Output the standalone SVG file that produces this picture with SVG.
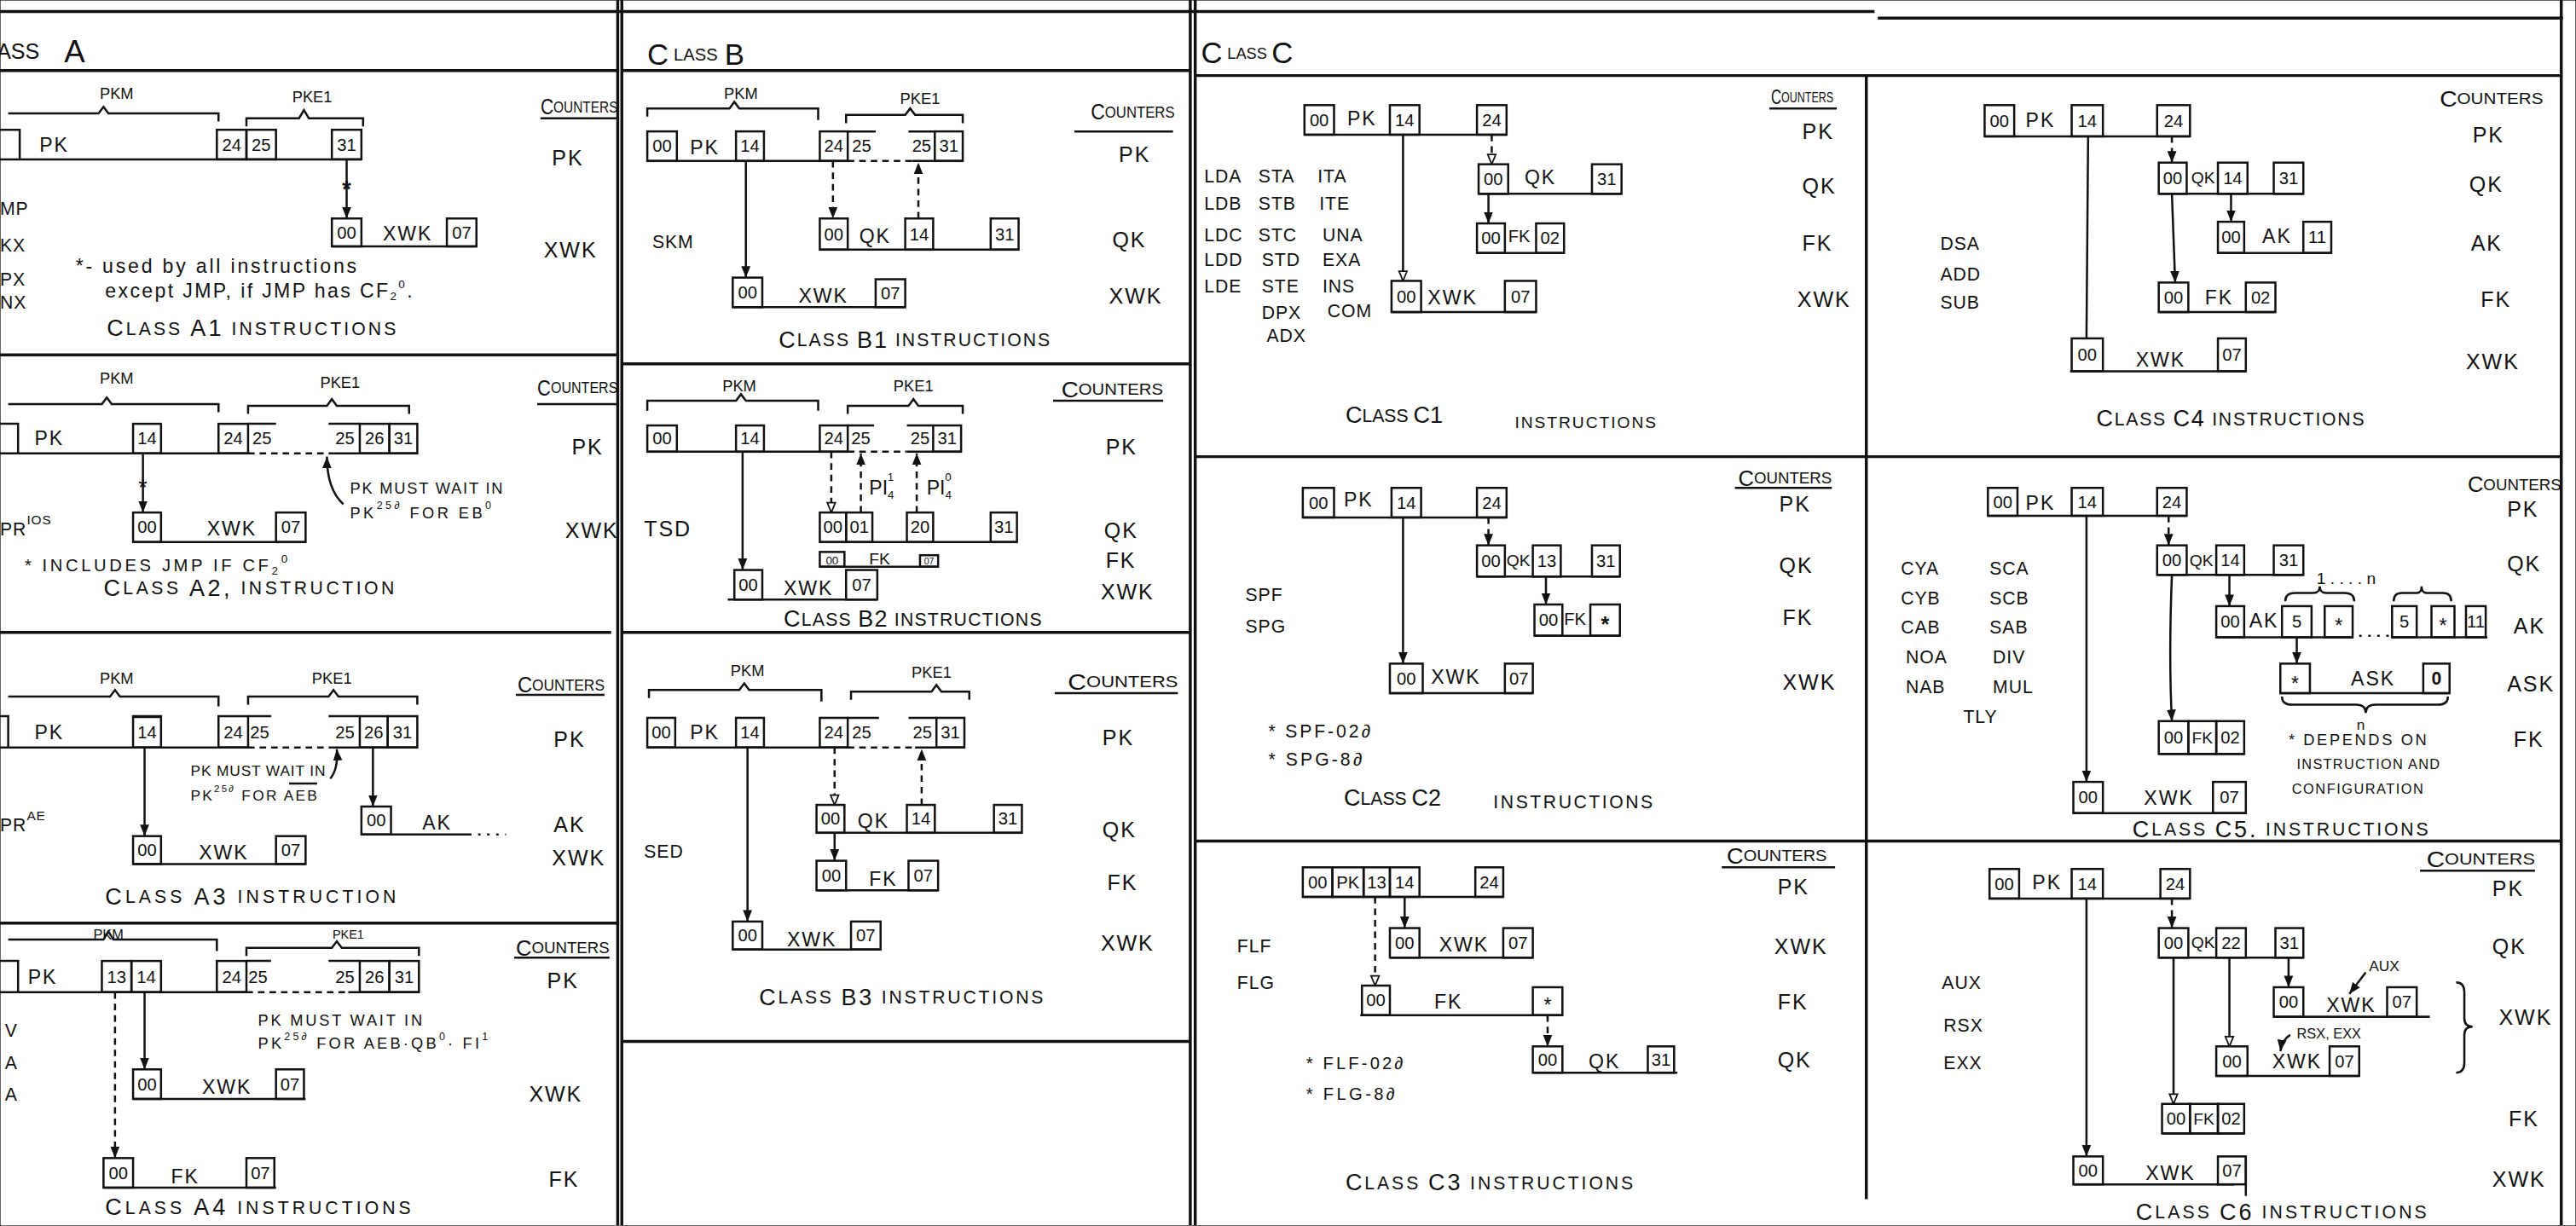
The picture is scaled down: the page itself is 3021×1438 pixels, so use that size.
<svg xmlns="http://www.w3.org/2000/svg" width="3021" height="1438" viewBox="0 0 3021 1438">
<defs>
<style>
.f{fill:none;stroke:#111;stroke-width:1.8}
.l{fill:none;stroke:#111;stroke-width:1.3}
rect{fill:none;stroke:#111;stroke-width:1.3}
.d{stroke-dasharray:4,3}
text{font-family:'Liberation Sans',Arial,sans-serif;fill:#111;dominant-baseline:central}
.n{font-size:10.5px;text-anchor:middle}
.m{text-anchor:middle}
.r{font-size:12px;letter-spacing:1px}
.k{font-size:13px;letter-spacing:1px}
.i{font-size:11px;letter-spacing:0.5px}
.s{font-size:9.5px}
.t{font-size:11px}
.b{font-size:14px}
.h{font-size:9.5px}
.hb{font-size:13px}
.sm{font-size:6.5px}
</style>
<marker id="a" viewBox="0 0 10 10" refX="10" refY="5" markerWidth="7" markerHeight="7" markerUnits="userSpaceOnUse" orient="auto"><path d="M0,1 L10,5 L0,9 z" fill="#111"/></marker>
<marker id="o" viewBox="0 0 10 10" refX="9.5" refY="5" markerWidth="7" markerHeight="7" markerUnits="userSpaceOnUse" orient="auto"><path d="M1,1.5 L9.5,5 L1,8.5 z" fill="#fff" stroke="#111" stroke-width="1.3"/></marker>
</defs>
<rect width="3021" height="1438" fill="#fff"/>
<g transform="scale(1.9267)">

<g id="frame" class="f">
<path d="M0,7 H1141 M1143,11 H1560"/>
<path d="M0,43 H376 M379,43 H724 M728,46 H1559"/>
<path d="M376,0 V746 M378.5,0 V746 M724.5,0 V746 M727.5,0 V746 M1136,46 V730 M1559,0 V746"/>
<path d="M0,216 H376 M0,385 H372 M0,562 H376"/>
<path d="M379,221.5 H724 M379,385 H724 M379,634 H724"/>
<path d="M728,278 H1136 M728,512 H1136 M1136,278 H1559 M1136,512 H1559"/>
</g>

<g id="headers">
<text x="-2" y="31" font-size="13">ASS<tspan x="39" font-size="19">A</tspan></text>
<text x="394" y="33" font-size="10.5"><tspan font-size="18">C</tspan><tspan x="410">LASS</tspan><tspan x="441" font-size="18">B</tspan></text>
<text x="731" y="32" font-size="9.5"><tspan font-size="18">C</tspan><tspan x="747">LASS</tspan><tspan x="774" font-size="18">C</tspan></text>
</g>

<!-- ============ A1 ============ -->
<g id="A1">
<text class="h m" x="71" y="57">PKM</text>
<path class="l" d="M5,69 H60 L63,65 L66,69 H133 V74"/>
<text class="h m" x="190" y="59">PKE1</text>
<path class="l" d="M150,77 V72 H182 L185,67 L188,72 H221 V77"/>
<text x="329" y="65" font-size="9.5" textLength="47" lengthAdjust="spacingAndGlyphs"><tspan class="hb">C</tspan>OUNTERS</text>
<path class="l" d="M329,72 H376"/>
<g id="A1-PK">
<path class="l" d="M-2,79 H12 V97 M-2,97 H220"/>
<text class="r" x="24" y="88">PK</text>
<rect x="132" y="79" width="18" height="18"/><text class="n" x="141" y="88">24</text>
<rect x="150" y="79" width="18" height="18"/><text class="n" x="159" y="88">25</text>
<rect x="202" y="79" width="18" height="18"/><text class="n" x="211" y="88">31</text>
</g>
<g id="A1-XWK">
<path class="l" d="M202,150 H290"/>
<rect x="202" y="133" width="18" height="17"/><text class="n" x="211" y="141.5">00</text>
<text class="r" x="233" y="142">XWK</text>
<rect x="272" y="133" width="18" height="17"/><text class="n" x="281" y="141.5">07</text>
</g>
<text class="i" x="0" y="127">MP</text>
<text class="i" x="0" y="149">KX</text>
<text class="i" x="0" y="170">PX</text>
<text class="i" x="0" y="184">NX</text>
<text x="46" y="162" font-size="12" textLength="171">*- used by all instructions</text>
<text x="64" y="177" font-size="12" textLength="187">except JMP, if JMP has CF<tspan dy="3" font-size="7">2</tspan><tspan dy="-7" font-size="7">0</tspan><tspan dy="4">.</tspan></text>
<text class="t" x="65" y="200" textLength="176"><tspan class="b">C</tspan>LASS <tspan class="b">A1</tspan> INSTRUCTIONS</text>
<text class="k" x="336" y="96">PK</text>
<text class="k" x="331" y="152">XWK</text>
</g>

<!-- ============ A2 ============ -->
<g id="A2">
<text class="h m" x="71" y="230">PKM</text>
<path class="l" d="M5,246 H62 L65,242 L68,246 H133 V251"/>
<text class="h m" x="207" y="233">PKE1</text>
<path class="l" d="M151,252 V247 H199 L202,243 L205,247 H249 V252"/>
<text x="327" y="236" font-size="9.5" textLength="49" lengthAdjust="spacingAndGlyphs"><tspan class="hb">C</tspan>OUNTERS</text>
<path class="l" d="M327,246 H376"/>
<g id="A2-PK">
<path class="l" d="M-2,258 H11 V276 M-2,276 H151 M203,276 H254 M151,258 H168 M200,258 H219"/>
<path class="l d" d="M151,276 H203"/>
<text class="r" x="21" y="267">PK</text>
<rect x="81" y="258" width="17" height="18"/><text class="n" x="89.5" y="267">14</text>
<rect x="133" y="258" width="18" height="18"/><text class="n" x="142" y="267">24</text>
<text class="n" x="159.5" y="267">25</text>
<text class="n" x="210" y="267">25</text>
<rect x="219" y="258" width="18" height="18"/><text class="n" x="228" y="267">26</text>
<rect x="237" y="258" width="17" height="18"/><text class="n" x="245.5" y="267">31</text>
</g>
<g id="A2-XWK">
<path class="l" d="M81,330 H186"/>
<rect x="81" y="312" width="17" height="18"/><text class="n" x="89.5" y="321">00</text>
<text class="r" x="126" y="322">XWK</text>
<rect x="168" y="312" width="18" height="18"/><text class="n" x="177" y="321">07</text>
</g>
<text class="i" x="0" y="322">PR<tspan dy="-6" font-size="8">IOS</tspan></text>
<text x="213" y="297" font-size="9.5" textLength="93">PK MUST WAIT IN</text>
<text x="213" y="312" font-size="9.5" textLength="86">PK<tspan dy="-4" font-size="6.5">25∂</tspan><tspan dy="4"> FOR EB</tspan><tspan dy="-4" font-size="6.5">0</tspan></text>
<text x="15" y="344" font-size="10.5" textLength="160">* INCLUDES JMP IF CF<tspan dy="3" font-size="7">2</tspan><tspan dy="-7" font-size="7">0</tspan></text>
<text class="t" x="63" y="358" textLength="177"><tspan class="b">C</tspan>LASS <tspan class="b">A2,</tspan> INSTRUCTION</text>
<text class="k" x="348" y="272">PK</text>
<text class="k" x="344" y="323">XWK</text>
</g>

<!-- ============ A3 ============ -->
<g id="A3">
<text class="h m" x="71" y="413">PKM</text>
<path class="l" d="M5,424 H67 L70,420 L73,424 H133 V430"/>
<text class="h m" x="202" y="413">PKE1</text>
<path class="l" d="M151,429 V424 H200 L203,420 L206,424 H254 V429"/>
<text x="315" y="417" font-size="9.5" textLength="53" lengthAdjust="spacingAndGlyphs"><tspan class="hb">C</tspan>OUNTERS</text>
<path class="l" d="M314,423 H368"/>
<g id="A3-PK">
<path class="l" d="M-2,436 H5 V455 M-2,455 H151 M202,455 H254 M151,436 H165 M200,436 H219 M81,436.5 H98"/>
<path class="l d" d="M151,455 H202"/>
<text class="r" x="21" y="446">PK</text>
<rect x="81" y="436" width="17" height="19"/><text class="n" x="89.5" y="446">14</text>
<rect x="133" y="436" width="18" height="19"/><text class="n" x="142" y="446">24</text>
<text class="n" x="158" y="446">25</text>
<text class="n" x="210" y="446">25</text>
<rect x="219" y="436" width="17" height="19"/><text class="n" x="227.5" y="446">26</text>
<rect x="236" y="436" width="18" height="19"/><text class="n" x="245" y="446">31</text>
</g>
<g id="A3-AK">
<path class="l" d="M220,508 H287"/>
<path class="l" d="M291,508 H308" stroke-dasharray="1.5,4"/>
<rect x="220" y="491" width="18" height="17"/><text class="n" x="229" y="499.5">00</text>
<text class="r" x="257" y="501">AK</text>
</g>
<g id="A3-XWK">
<path class="l" d="M81,526 H186"/>
<rect x="81" y="509" width="17" height="17"/><text class="n" x="89.5" y="517.5">00</text>
<text class="r" x="121" y="519">XWK</text>
<rect x="168" y="509" width="18" height="17"/><text class="n" x="177" y="517.5">07</text>
</g>
<text class="i" x="0" y="502">PR<tspan dy="-6" font-size="8">AE</tspan></text>
<text x="116" y="469" font-size="9" textLength="82">PK MUST WAIT IN</text>
<text x="116" y="484" font-size="9" textLength="77">PK<tspan dy="-4" font-size="6">25∂</tspan><tspan dy="4"> FOR AEB</tspan></text>
<path class="l" d="M176,477 H193" stroke-width="0.9"/>
<text class="t" x="64" y="546" textLength="177"><tspan class="b">C</tspan>LASS <tspan class="b">A3</tspan> INSTRUCTION</text>
<text class="k" x="337" y="450">PK</text>
<text class="k" x="337" y="502">AK</text>
<text class="k" x="336" y="522">XWK</text>
</g>

<!-- ============ A4 ============ -->
<g id="A4">
<text class="m" x="66" y="569" font-size="8.5">PKM</text>
<path class="l" d="M5,572 H63 L66,567 L69,572 H132 V579"/>
<text class="m" x="212" y="569" font-size="7.5">PKE1</text>
<path class="l" d="M150,582 V577 H202 L205,573 L208,577 H255 V582"/>
<text x="314" y="577" font-size="9.5" textLength="57" lengthAdjust="spacingAndGlyphs"><tspan class="hb">C</tspan>OUNTERS</text>
<path class="l" d="M313,583 H371"/>
<g id="A4-PK">
<path class="l" d="M-2,585 H11 V604 M-2,604 H150 M212,604 H255 M150,585 H165 M200,585 H219"/>
<path class="l d" d="M150,604 H212"/>
<text class="r" x="17" y="595">PK</text>
<rect x="62" y="585" width="18" height="19"/><text class="n" x="71" y="595">13</text>
<rect x="80" y="585" width="18" height="19"/><text class="n" x="89" y="595">14</text>
<rect x="132" y="585" width="18" height="19"/><text class="n" x="141" y="595">24</text>
<text class="n" x="157" y="595">25</text>
<text class="n" x="210" y="595">25</text>
<rect x="219" y="585" width="18" height="19"/><text class="n" x="228" y="595">26</text>
<rect x="237" y="585" width="18" height="19"/><text class="n" x="246" y="595">31</text>
</g>
<g id="A4-XWK">
<path class="l" d="M81,669 H186"/>
<rect x="81" y="651" width="17" height="18"/><text class="n" x="89.5" y="660">00</text>
<text class="r" x="123" y="662">XWK</text>
<rect x="168" y="651" width="17" height="18"/><text class="n" x="176.5" y="660">07</text>
</g>
<g id="A4-FK">
<path class="l" d="M63,723 H168"/>
<rect x="63" y="705" width="18" height="18"/><text class="n" x="72" y="714">00</text>
<text class="r" x="104" y="716">FK</text>
<rect x="150" y="705" width="17" height="18"/><text class="n" x="158.5" y="714">07</text>
</g>
<text class="i" x="3" y="627">V</text>
<text class="i" x="3" y="647">A</text>
<text class="i" x="3" y="666">A</text>
<text x="157" y="621" font-size="9.5" textLength="100">PK MUST WAIT IN</text>
<text x="157" y="635" font-size="9.5" textLength="140">PK<tspan dy="-4" font-size="6.5">25∂</tspan><tspan dy="4"> FOR AEB·QB</tspan><tspan dy="-4" font-size="6.5">0</tspan><tspan dy="4">· FI</tspan><tspan dy="-4" font-size="6.5">1</tspan></text>
<text class="t" x="64" y="735" textLength="186"><tspan class="b">C</tspan>LASS <tspan class="b">A4</tspan> INSTRUCTIONS</text>
<text class="k" x="333" y="597">PK</text>
<text class="k" x="322" y="666">XWK</text>
<text class="k" x="334" y="718">FK</text>
</g>

<!-- ============ B1 ============ -->
<g id="B1">
<text class="h m" x="451" y="57">PKM</text>
<path class="l" d="M394,71 V66 H444 L447,62 L450,66 H498 V73"/>
<text class="h m" x="560" y="60">PKE1</text>
<path class="l" d="M515,75 V70 H551 L554,66 L557,70 H586 V75"/>
<text x="664" y="68" font-size="9.5" textLength="51" lengthAdjust="spacingAndGlyphs"><tspan class="hb">C</tspan>OUNTERS</text>
<path class="l" d="M654,80 H714"/>
<g id="B1-PK">
<path class="l" d="M394,98 H516 M555,98 H586 M516,80 H533 M553,80 H569"/>
<path class="l d" d="M516,98 H555"/>
<rect x="394" y="80" width="18" height="18"/><text class="n" x="403" y="89">00</text>
<text class="r" x="420" y="90">PK</text>
<rect x="448" y="80" width="17" height="18"/><text class="n" x="456.5" y="89">14</text>
<rect x="499" y="80" width="17" height="18"/><text class="n" x="507.5" y="89">24</text>
<text class="n" x="524.5" y="89">25</text>
<text class="n" x="561" y="89">25</text>
<rect x="569" y="80" width="17" height="18"/><text class="n" x="577.5" y="89">31</text>
</g>
<g id="B1-QK">
<path class="l" d="M499,152 H620"/>
<rect x="499" y="133" width="17" height="19"/><text class="n" x="507.5" y="142.5">00</text>
<text class="r" x="523" y="144">QK</text>
<rect x="551" y="133" width="17" height="19"/><text class="n" x="559.5" y="142.5">14</text>
<rect x="603" y="133" width="17" height="19"/><text class="n" x="611.5" y="142.5">31</text>
</g>
<g id="B1-XWK">
<path class="l" d="M446,187 H551"/>
<rect x="446" y="169" width="18" height="18"/><text class="n" x="455" y="178">00</text>
<text class="r" x="486" y="180">XWK</text>
<rect x="533" y="170" width="18" height="17"/><text class="n" x="542" y="178.5">07</text>
</g>
<text class="i" x="397" y="147">SKM</text>
<text class="t" x="474" y="207" textLength="165"><tspan class="b">C</tspan>LASS <tspan class="b">B1</tspan> INSTRUCTIONS</text>
<text class="k" x="681" y="94">PK</text>
<text class="k" x="677" y="146">QK</text>
<text class="k" x="675" y="180">XWK</text>
</g>

<!-- ============ B2 ============ -->
<g id="B2">
<text class="h m" x="450" y="235">PKM</text>
<path class="l" d="M394,250 V244 H448 L451,240 L454,244 H498 V250"/>
<text class="h m" x="556" y="235">PKE1</text>
<path class="l" d="M516,252 V247 H553 L556,243 L559,247 H586 V252"/>
<text x="646" y="237" font-size="9.5" textLength="62" lengthAdjust="spacingAndGlyphs"><tspan class="hb">C</tspan>OUNTERS</text>
<path class="l" d="M641,244 H708"/>
<g id="B2-PK">
<path class="l" d="M394,275 H516 M552,275 H585 M516,259 H532 M552,259 H568"/>
<path class="l d" d="M516,275 H552"/>
<rect x="394" y="259" width="18" height="16"/><text class="n" x="403" y="267">00</text>
<rect x="448" y="259" width="17" height="16"/><text class="n" x="456.5" y="267">14</text>
<rect x="499" y="259" width="17" height="16"/><text class="n" x="507.5" y="267">24</text>
<text class="n" x="524" y="267">25</text>
<text class="n" x="560" y="267">25</text>
<rect x="568" y="259" width="17" height="16"/><text class="n" x="576.5" y="267">31</text>
</g>
<g id="B2-QK">
<path class="l" d="M499,330 H619"/>
<rect x="499" y="312" width="16" height="18"/><text class="n" x="507" y="321">00</text>
<rect x="515" y="312" width="16" height="18"/><text class="n" x="523" y="321">01</text>
<rect x="552" y="312" width="16" height="18"/><text class="n" x="560" y="321">20</text>
<rect x="603" y="312" width="16" height="18"/><text class="n" x="611" y="321">31</text>
</g>
<g id="B2-FK">
<path class="l" d="M499,345 H571"/>
<rect x="499" y="336" width="15" height="9"/><text class="m" x="506.5" y="341" font-size="7">00</text>
<text x="529" y="340" font-size="10">FK</text>
<rect x="560" y="338" width="11" height="7"/><text class="m" x="565.5" y="341.5" font-size="5.5">07</text>
</g>
<g id="B2-XWK">
<path class="l" d="M443,365 H534"/>
<rect x="447" y="347" width="17" height="18"/><text class="n" x="455.5" y="356">00</text>
<text class="r" x="477" y="358">XWK</text>
<rect x="515" y="347" width="19" height="18"/><text class="n" x="524.5" y="356">07</text>
</g>
<text class="k" x="392" y="322">TSD</text>
<text class="t" x="477" y="377" textLength="157"><tspan class="b">C</tspan>LASS <tspan class="b">B2</tspan> INSTRUCTIONS</text>
<text class="k" x="673" y="272">PK</text>
<text class="k" x="672" y="323">QK</text>
<text class="k" x="673" y="341">FK</text>
<text class="k" x="670" y="360">XWK</text>
</g>

<!-- ============ B3 ============ -->
<g id="B3">
<text class="h m" x="455" y="408">PKM</text>
<path class="l" d="M395,425 V420 H450 L453,416 L456,420 H500 V427"/>
<text class="h m" x="567" y="409">PKE1</text>
<path class="l" d="M518,426 V421 H567 L570,417 L573,421 H590 V426"/>
<text x="650" y="415" font-size="9.5" textLength="67" lengthAdjust="spacingAndGlyphs"><tspan class="hb">C</tspan>OUNTERS</text>
<path class="l" d="M642,422 H717"/>
<g id="B3-PK">
<path class="l" d="M394,455 H516 M557,455 H587 M516,437 H535 M553,437 H570"/>
<path class="l d" d="M516,455 H557"/>
<rect x="394" y="437" width="17" height="18"/><text class="n" x="402.5" y="446">00</text>
<text class="r" x="420" y="446">PK</text>
<rect x="448" y="437" width="17" height="18"/><text class="n" x="456.5" y="446">14</text>
<rect x="499" y="437" width="17" height="18"/><text class="n" x="507.5" y="446">24</text>
<text class="n" x="524.5" y="446">25</text>
<text class="n" x="561.5" y="446">25</text>
<rect x="570" y="437" width="17" height="18"/><text class="n" x="578.5" y="446">31</text>
</g>
<g id="B3-QK">
<path class="l" d="M497,507 H622"/>
<rect x="497" y="490" width="17" height="17"/><text class="n" x="505.5" y="498.5">00</text>
<text class="r" x="522" y="500">QK</text>
<rect x="552" y="490" width="17" height="17"/><text class="n" x="560.5" y="498.5">14</text>
<rect x="605" y="490" width="17" height="17"/><text class="n" x="613.5" y="498.5">31</text>
</g>
<g id="B3-FK">
<path class="l" d="M497,542 H571"/>
<rect x="497" y="524" width="18" height="18"/><text class="n" x="506" y="533">00</text>
<text class="r" x="529" y="535">FK</text>
<rect x="553" y="524" width="18" height="18"/><text class="n" x="562" y="533">07</text>
</g>
<g id="B3-XWK">
<path class="l" d="M446,578 H536"/>
<rect x="446" y="561" width="18" height="17"/><text class="n" x="455" y="569.5">00</text>
<text class="r" x="479" y="572">XWK</text>
<rect x="518" y="561" width="18" height="17"/><text class="n" x="527" y="569.5">07</text>
</g>
<text class="i" x="392" y="518">SED</text>
<text class="t" x="462" y="607" textLength="173"><tspan class="b">C</tspan>LASS <tspan class="b">B3</tspan> INSTRUCTIONS</text>
<text class="k" x="671" y="449">PK</text>
<text class="k" x="671" y="505">QK</text>
<text class="k" x="674" y="537">FK</text>
<text class="k" x="670" y="574">XWK</text>
</g>

<!-- ============ C1 ============ -->
<g id="C1">
<text x="1078" y="59" font-size="9" textLength="38" lengthAdjust="spacingAndGlyphs"><tspan font-size="12">C</tspan>OUNTERS</text>
<path class="l" d="M1077,66 H1118"/>
<g id="C1-PK">
<path class="l" d="M794,82 H917"/>
<rect x="794" y="64" width="18" height="18"/><text class="n" x="803" y="73">00</text>
<text class="r" x="820" y="72">PK</text>
<rect x="846" y="64" width="18" height="18"/><text class="n" x="855" y="73">14</text>
<rect x="899" y="64" width="18" height="18"/><text class="n" x="908" y="73">24</text>
</g>
<g id="C1-QK">
<path class="l" d="M900,118 H987"/>
<rect x="900" y="100" width="18" height="18"/><text class="n" x="909" y="109">00</text>
<text class="r" x="928" y="108">QK</text>
<rect x="969" y="100" width="18" height="18"/><text class="n" x="978" y="109">31</text>
</g>
<g id="C1-FK">
<path class="l" d="M899,154 H952"/>
<rect x="899" y="136" width="17" height="18"/><text class="n" x="907.5" y="145">00</text>
<text x="918" y="144" font-size="10.5">FK</text>
<rect x="935" y="136" width="17" height="18"/><text class="n" x="943.5" y="145">02</text>
</g>
<g id="C1-XWK">
<path class="l" d="M847,190 H935"/>
<rect x="847" y="171" width="18" height="19"/><text class="n" x="856" y="180.5">00</text>
<text class="r" x="869" y="181">XWK</text>
<rect x="916" y="171" width="19" height="19"/><text class="n" x="925.5" y="180.5">07</text>
</g>
<text class="i" x="733" y="107">LDA</text><text class="i" x="766" y="107">STA</text><text class="i" x="802" y="107">ITA</text>
<text class="i" x="733" y="124">LDB</text><text class="i" x="766" y="124">STB</text><text class="i" x="803" y="124">ITE</text>
<text class="i" x="733" y="143">LDC</text><text class="i" x="766" y="143">STC</text><text class="i" x="805" y="143">UNA</text>
<text class="i" x="733" y="158">LDD</text><text class="i" x="768" y="158">STD</text><text class="i" x="805" y="158">EXA</text>
<text class="i" x="733" y="174">LDE</text><text class="i" x="768" y="174">STE</text><text class="i" x="805" y="174">INS</text>
<text class="i" x="768" y="190">DPX</text><text class="i" x="808" y="189">COM</text>
<text class="i" x="771" y="204">ADX</text>
<text class="t" x="819" y="253"><tspan class="b">C</tspan>LASS <tspan class="b">C1</tspan><tspan x="922" y="257" font-size="10" textLength="86">INSTRUCTIONS</tspan></text>
<text class="k" x="1097" y="80">PK</text>
<text class="k" x="1097" y="113">QK</text>
<text class="k" x="1097" y="148">FK</text>
<text class="k" x="1094" y="182">XWK</text>
</g>

<!-- ============ C2 ============ -->
<g id="C2">
<text x="1058" y="291" font-size="9.5" textLength="57" lengthAdjust="spacingAndGlyphs"><tspan class="hb">C</tspan>OUNTERS</text>
<path class="l" d="M1056,297 H1115"/>
<g id="C2-PK">
<path class="l" d="M793,315 H917"/>
<rect x="793" y="297" width="19" height="18"/><text class="n" x="802.5" y="306">00</text>
<text class="r" x="818" y="304">PK</text>
<rect x="847" y="297" width="18" height="18"/><text class="n" x="856" y="306">14</text>
<rect x="899" y="297" width="18" height="18"/><text class="n" x="908" y="306">24</text>
</g>
<g id="C2-QK">
<path class="l" d="M899,351 H986"/>
<rect x="899" y="332" width="17" height="19"/><text class="n" x="907.5" y="341.5">00</text>
<text x="917" y="341" font-size="10">QK</text>
<rect x="933" y="332" width="17" height="19"/><text class="n" x="941.5" y="341.5">13</text>
<rect x="969" y="332" width="17" height="19"/><text class="n" x="977.5" y="341.5">31</text>
</g>
<g id="C2-FK">
<path class="l" d="M934,387 H986"/>
<rect x="934" y="368" width="17" height="19"/><text class="n" x="942.5" y="377.5">00</text>
<text x="952" y="377" font-size="10.5">FK</text>
<rect x="968" y="368" width="18" height="19"/><text class="m" x="977" y="380" font-size="13" font-weight="bold">*</text>
</g>
<g id="C2-XWK">
<path class="l" d="M846,422 H933"/>
<rect x="846" y="404" width="20" height="18"/><text class="n" x="856" y="413">00</text>
<text class="r" x="871" y="412">XWK</text>
<rect x="916" y="404" width="17" height="18"/><text class="n" x="924.5" y="413">07</text>
</g>
<text class="i" x="758" y="362">SPF</text>
<text class="i" x="758" y="381">SPG</text>
<text x="772" y="445" font-size="11" textLength="62">* SPF-02∂</text>
<text x="772" y="462" font-size="11" textLength="57">* SPG-8∂</text>
<text class="t" x="818" y="486"><tspan class="b">C</tspan>LASS <tspan class="b">C2</tspan><tspan x="909" y="488" textLength="97">INSTRUCTIONS</tspan></text>
<text class="k" x="1083" y="307">PK</text>
<text class="k" x="1083" y="344">QK</text>
<text class="k" x="1085" y="376">FK</text>
<text class="k" x="1085" y="415">XWK</text>
</g>

<!-- ============ C3 ============ -->
<g id="C3">
<text x="1051" y="521" font-size="9.5" textLength="61" lengthAdjust="spacingAndGlyphs"><tspan class="hb">C</tspan>OUNTERS</text>
<path class="l" d="M1048,528 H1117"/>
<g id="C3-PK">
<path class="l" d="M793,546 H915"/>
<rect x="793" y="528" width="18" height="18"/><text class="n" x="802" y="537">00</text>
<rect x="811" y="528" width="19" height="18"/><text x="820.5" y="537" class="m" font-size="10.5">PK</text>
<rect x="830" y="528" width="16" height="18"/><text class="n" x="838" y="537">13</text>
<rect x="846" y="528" width="18" height="18"/><text class="n" x="855" y="537">14</text>
<rect x="898" y="528" width="17" height="18"/><text class="n" x="906.5" y="537">24</text>
</g>
<g id="C3-XWK">
<path class="l" d="M846,583 H933"/>
<rect x="846" y="565" width="18" height="18"/><text class="n" x="855" y="574">00</text>
<text class="r" x="876" y="575">XWK</text>
<rect x="915" y="565" width="18" height="18"/><text class="n" x="924" y="574">07</text>
</g>
<g id="C3-FK">
<path class="l" d="M828,618 H951"/>
<rect x="829" y="600" width="17" height="18"/><text class="n" x="837.5" y="609">00</text>
<text class="r" x="873" y="610">FK</text>
<rect x="933" y="601" width="18" height="17"/><text class="m" x="942" y="612" font-size="12">*</text>
</g>
<g id="C3-QK">
<path class="l" d="M933,653 H1021"/>
<rect x="933" y="637" width="18" height="16"/><text class="n" x="942" y="645">00</text>
<text class="r" x="967" y="646">QK</text>
<rect x="1003" y="637" width="16" height="16"/><text class="n" x="1011" y="645">31</text>
</g>
<text class="i" x="753" y="576">FLF</text>
<text class="i" x="753" y="598">FLG</text>
<text x="795" y="647" font-size="10.5" textLength="59">* FLF-02∂</text>
<text x="795" y="666" font-size="10.5" textLength="54">* FLG-8∂</text>
<text class="t" x="819" y="720" textLength="175"><tspan class="b">C</tspan>LASS <tspan class="b">C3</tspan> INSTRUCTIONS</text>
<text class="k" x="1082" y="540">PK</text>
<text class="k" x="1080" y="576">XWK</text>
<text class="k" x="1082" y="610">FK</text>
<text class="k" x="1082" y="645">QK</text>
</g>

<!-- ============ C4 ============ -->
<g id="C4">
<text x="1485" y="60" font-size="9.5" textLength="63" lengthAdjust="spacingAndGlyphs"><tspan class="hb">C</tspan>OUNTERS</text>
<g id="C4-PK">
<path class="l" d="M1208,83 H1333"/>
<rect x="1208" y="64" width="18" height="19"/><text class="n" x="1217" y="73.5">00</text>
<text class="r" x="1233" y="73">PK</text>
<rect x="1261" y="64" width="19" height="19"/><text class="n" x="1270.5" y="73.5">14</text>
<rect x="1313" y="64" width="20" height="19"/><text class="n" x="1323" y="73.5">24</text>
</g>
<g id="C4-QK">
<path class="l" d="M1314,118 H1402"/>
<rect x="1314" y="99" width="17" height="19"/><text class="n" x="1322.5" y="108.5">00</text>
<text x="1341" y="108" class="m" font-size="10">QK</text>
<rect x="1350" y="99" width="18" height="19"/><text class="n" x="1359" y="108.5">14</text>
<rect x="1384" y="99" width="18" height="19"/><text class="n" x="1393" y="108.5">31</text>
</g>
<g id="C4-AK">
<path class="l" d="M1350,154 H1419"/>
<rect x="1350" y="135" width="16" height="19"/><text class="n" x="1358" y="144.5">00</text>
<text class="r" x="1377" y="144">AK</text>
<rect x="1402" y="135" width="17" height="19"/><text class="n" x="1410.5" y="144.5">11</text>
</g>
<g id="C4-FK">
<path class="l" d="M1314,190 H1385"/>
<rect x="1314" y="172" width="18" height="18"/><text class="n" x="1323" y="181">00</text>
<text class="r" x="1342" y="181">FK</text>
<rect x="1367" y="172" width="18" height="18"/><text class="n" x="1376" y="181">02</text>
</g>
<g id="C4-XWK">
<path class="l" d="M1260,226 H1367"/>
<rect x="1261" y="206" width="19" height="20"/><text class="n" x="1270.5" y="216">00</text>
<text class="r" x="1300" y="219">XWK</text>
<rect x="1350" y="206" width="17" height="20"/><text class="n" x="1358.5" y="216">07</text>
</g>
<text class="i" x="1181" y="148">DSA</text>
<text class="i" x="1181" y="167">ADD</text>
<text class="i" x="1181" y="184">SUB</text>
<text class="t" x="1276" y="255" textLength="163"><tspan class="b">C</tspan>LASS <tspan class="b">C4</tspan> INSTRUCTIONS</text>
<text class="k" x="1505" y="82">PK</text>
<text class="k" x="1503" y="112">QK</text>
<text class="k" x="1504" y="148">AK</text>
<text class="k" x="1510" y="182">FK</text>
<text class="k" x="1501" y="220">XWK</text>
</g>

<!-- ============ C5 ============ -->
<g id="C5">
<text x="1502" y="295" font-size="9.5" textLength="57" lengthAdjust="spacingAndGlyphs"><tspan class="hb">C</tspan>OUNTERS</text>
<g id="C5-PK">
<path class="l" d="M1210,314 H1331"/>
<rect x="1210" y="297" width="18" height="17"/><text class="n" x="1219" y="305.5">00</text>
<text class="r" x="1233" y="306">PK</text>
<rect x="1261" y="297" width="19" height="17"/><text class="n" x="1270.5" y="305.5">14</text>
<rect x="1313" y="297" width="18" height="17"/><text class="n" x="1322" y="305.5">24</text>
</g>
<g id="C5-QK">
<path class="l" d="M1313,350 H1402"/>
<rect x="1313" y="332" width="18" height="18"/><text class="n" x="1322" y="341">00</text>
<text x="1340" y="341" class="m" font-size="10">QK</text>
<rect x="1349" y="332" width="17" height="18"/><text class="n" x="1357.5" y="341">14</text>
<rect x="1384" y="332" width="18" height="18"/><text class="n" x="1393" y="341">31</text>
</g>
<g id="C5-AK">
<path class="l" d="M1349,388 H1432 M1456,388 H1514"/>
<path class="l" d="M1436,387 H1454" stroke-dasharray="1.5,4" stroke-width="2"/>
<rect x="1349" y="369" width="17" height="19"/><text class="n" x="1357.5" y="378.5">00</text>
<text class="r" x="1369" y="378">AK</text>
<rect x="1389" y="369" width="18" height="19"/><text class="n" x="1398" y="378.5">5</text>
<rect x="1415" y="369" width="17" height="19"/><text class="m" x="1423.5" y="381" font-size="12">*</text>
<rect x="1456" y="369" width="15" height="19"/><text class="n" x="1463.5" y="378.5">5</text>
<rect x="1480" y="369" width="14" height="19"/><text class="m" x="1487" y="381" font-size="12">*</text>
<rect x="1501" y="369" width="12" height="19"/><text class="n" x="1507" y="378.5">11</text>
<text x="1410" y="352" font-size="10">1 . . . . n</text>
<path class="l" d="M1391,366 Q1391,361 1397,361 H1408 Q1412,361 1412,357 Q1412,361 1416,361 H1427 Q1433,361 1433,366"/>
<path class="l" d="M1457,366 Q1457,361 1462,361 H1471 Q1474,361 1474,357 Q1474,361 1477,361 H1487 Q1492,361 1492,366"/>
</g>
<g id="C5-ASK">
<path class="l" d="M1388,422 H1491"/>
<rect x="1388" y="404" width="18" height="18"/><text class="m" x="1397" y="416" font-size="12">*</text>
<text class="r" x="1431" y="413">ASK</text>
<rect x="1475" y="404" width="16" height="18" stroke-width="2"/><text class="m" x="1483" y="413" font-size="11" font-weight="bold">0</text>
<path class="l" d="M1389,424 Q1389,429 1395,429 H1434 Q1440,429 1440,434 Q1440,429 1446,429 H1484 Q1490,429 1490,424"/>
<text class="m" x="1437" y="441" font-size="9">n</text>
</g>
<g id="C5-FK">
<path class="l" d="M1314,459 H1366"/>
<rect x="1314" y="439" width="18" height="20"/><text class="n" x="1323" y="449">00</text>
<rect x="1332" y="439" width="17" height="20"/><text class="m" x="1340.5" y="449" font-size="10">FK</text>
<rect x="1349" y="439" width="17" height="20"/><text class="n" x="1357.5" y="449">02</text>
</g>
<g id="C5-XWK">
<path class="l" d="M1262,495 H1367"/>
<rect x="1262" y="476" width="18" height="19"/><text class="n" x="1271" y="485.5">00</text>
<text class="r" x="1305" y="486">XWK</text>
<rect x="1347" y="476" width="20" height="19"/><text class="n" x="1357" y="485.5">07</text>
</g>
<text x="1393" y="450" font-size="9.5" textLength="84">* DEPENDS ON</text>
<text x="1398" y="465" font-size="8.5" textLength="87">INSTRUCTION AND</text>
<text x="1395" y="480" font-size="8.5" textLength="80">CONFIGURATION</text>
<text class="i" x="1157" y="346">CYA</text><text class="i" x="1211" y="346">SCA</text>
<text class="i" x="1157" y="364">CYB</text><text class="i" x="1211" y="364">SCB</text>
<text class="i" x="1157" y="382">CAB</text><text class="i" x="1211" y="382">SAB</text>
<text class="i" x="1160" y="400">NOA</text><text class="i" x="1213" y="400">DIV</text>
<text class="i" x="1160" y="418">NAB</text><text class="i" x="1213" y="418">MUL</text>
<text class="i" x="1195" y="436">TLY</text>
<text class="t" x="1298" y="505" textLength="180"><tspan class="b">C</tspan>LASS <tspan class="b">C5.</tspan> INSTRUCTIONS</text>
<text class="k" x="1526" y="310">PK</text>
<text class="k" x="1526" y="343">QK</text>
<text class="k" x="1530" y="381">AK</text>
<text class="k" x="1526" y="416">ASK</text>
<text class="k" x="1530" y="450">FK</text>
</g>

<!-- ============ C6 ============ -->
<g id="C6">
<text x="1477" y="523" font-size="9.5" textLength="66" lengthAdjust="spacingAndGlyphs"><tspan class="hb">C</tspan>OUNTERS</text>
<path class="l" d="M1473,530 H1543"/>
<g id="C6-PK">
<path class="l" d="M1211,547 H1333"/>
<rect x="1211" y="529" width="18" height="18"/><text class="n" x="1220" y="538">00</text>
<text class="r" x="1237" y="537">PK</text>
<rect x="1261" y="529" width="19" height="18"/><text class="n" x="1270.5" y="538">14</text>
<rect x="1315" y="529" width="18" height="18"/><text class="n" x="1324" y="538">24</text>
</g>
<g id="C6-QK">
<path class="l" d="M1314,583 H1402"/>
<rect x="1314" y="565" width="18" height="18"/><text class="n" x="1323" y="574">00</text>
<text x="1341" y="574" class="m" font-size="10">QK</text>
<rect x="1349" y="565" width="18" height="18"/><text class="n" x="1358" y="574">22</text>
<rect x="1385" y="565" width="17" height="18"/><text class="n" x="1393.5" y="574">31</text>
</g>
<g id="C6-XWK-AUX">
<path class="l" d="M1384,619 H1479"/>
<rect x="1384" y="601" width="18" height="18"/><text class="n" x="1393" y="610">00</text>
<text class="r" x="1416" y="612">XWK</text>
<rect x="1453" y="601" width="18" height="18"/><text class="n" x="1462" y="610">07</text>
<text x="1442" y="588" font-size="9">AUX</text>
</g>
<g id="C6-XWK-RSX">
<path class="l" d="M1349,655 H1436"/>
<rect x="1349" y="637" width="19" height="18"/><text class="n" x="1358.5" y="646">00</text>
<text class="r" x="1383" y="646">XWK</text>
<rect x="1418" y="637" width="18" height="18"/><text class="n" x="1427" y="646">07</text>
<text x="1398" y="629" font-size="8.5">RSX, EXX</text>
</g>
<path class="l" d="M1495,598 Q1500,598 1500,604 V620 Q1500,625 1505,625 Q1500,625 1500,630 V647 Q1500,653 1495,653"/>
<g id="C6-FK">
<path class="l" d="M1316,690 H1366"/>
<rect x="1316" y="672" width="17" height="18"/><text class="n" x="1324.5" y="681">00</text>
<rect x="1333" y="672" width="17" height="18"/><text class="m" x="1341.5" y="681" font-size="10">FK</text>
<rect x="1350" y="672" width="16" height="18"/><text class="n" x="1358" y="681">02</text>
</g>
<g id="C6-XWK">
<path class="l" d="M1262,721 H1360 M1367,704 V728"/>
<rect x="1262" y="704" width="18" height="17"/><text class="n" x="1271" y="712.5">00</text>
<text class="r" x="1306" y="714">XWK</text>
<rect x="1350" y="704" width="17" height="17"/><text class="n" x="1358.5" y="712.5">07</text>
</g>
<text class="i" x="1182" y="598">AUX</text>
<text class="i" x="1183" y="624">RSX</text>
<text class="i" x="1183" y="647">EXX</text>
<text class="t" x="1300" y="738" textLength="177"><tspan class="b">C</tspan>LASS <tspan class="b">C6</tspan> INSTRUCTIONS</text>
<text class="k" x="1517" y="541">PK</text>
<text class="k" x="1517" y="576">QK</text>
<text class="k" x="1521" y="619">XWK</text>
<text class="k" x="1527" y="681">FK</text>
<text class="k" x="1517" y="718">XWK</text>
</g>

<!-- ============ connectors ============ -->
<g id="connectors">
<path class="l" d="M211,97 V133" marker-end="url(#a)"/>
<text class="m" x="211" y="115" font-size="14" font-weight="bold">*</text>
<path class="l" d="M87,276 V312" marker-end="url(#a)"/>
<text class="m" x="87" y="297" font-size="14">*</text>
<path class="l" d="M209,307 Q199,298 199,278" marker-end="url(#a)"/>
<path class="l" d="M88,455 V509" marker-end="url(#a)"/>
<path class="l" d="M227,455 V491" marker-end="url(#a)"/>
<path class="l" d="M201,474 Q206,468 205,456" marker-end="url(#a)"/>
<path class="l d" d="M70,604 V705" marker-end="url(#a)"/>
<path class="l" d="M88,604 V651" marker-end="url(#a)"/>
<path class="l" d="M454,98 V169" marker-end="url(#a)"/>
<path class="l d" d="M507,98 V133" marker-end="url(#a)"/>
<path class="l d" d="M559,133 V99" marker-end="url(#a)"/>
<path class="l" d="M452,275 V347" marker-end="url(#a)"/>
<path class="l d" d="M506,275 V312" marker-end="url(#o)"/>
<path class="l d" d="M524,312 V276" marker-end="url(#a)"/>
<path class="l d" d="M558,312 V276" marker-end="url(#a)"/>
<text x="529" y="297" font-size="12">PI<tspan dy="4" font-size="7">4</tspan><tspan dx="-4" dy="-11" font-size="7">1</tspan></text>
<text x="564" y="297" font-size="12">PI<tspan dy="4" font-size="7">4</tspan><tspan dx="-4" dy="-11" font-size="7">0</tspan></text>
<path class="l d" d="M508,455 V490" marker-end="url(#o)"/>
<path class="l d" d="M561,490 V456" marker-end="url(#a)"/>
<path class="l" d="M508,507 V524" marker-end="url(#a)"/>
<path class="l" d="M455,455 V561" marker-end="url(#a)"/>
<path class="l" d="M854,82 V171" marker-end="url(#o)"/>
<path class="l d" d="M908,82 V100" marker-end="url(#o)"/>
<path class="l" d="M906,118 V136" marker-end="url(#a)"/>
<path class="l" d="M854,315 V404" marker-end="url(#a)"/>
<path class="l d" d="M906,315 V332" marker-end="url(#a)"/>
<path class="l" d="M941,351 V368" marker-end="url(#a)"/>
<path class="l d" d="M837,546 V600" marker-end="url(#o)"/>
<path class="l" d="M855,546 V565" marker-end="url(#a)"/>
<path class="l d" d="M942,618 V637" marker-end="url(#a)"/>
<path class="l" d="M1271,83 L1270,206"/>
<path class="l d" d="M1322,83 V99" marker-end="url(#a)"/>
<path class="l" d="M1358,118 V135" marker-end="url(#a)"/>
<path class="l" d="M1322,118 L1324,172" marker-end="url(#a)"/>
<path class="l" d="M1270,314 V476" marker-end="url(#a)"/>
<path class="l d" d="M1320,314 V332" marker-end="url(#a)"/>
<path class="l" d="M1357,350 V369" marker-end="url(#a)"/>
<path class="l" d="M1398,388 V404" marker-end="url(#a)"/>
<path class="l" d="M1322,350 Q1320,400 1322,439" marker-end="url(#a)"/>
<path class="l" d="M1270,547 V704" marker-end="url(#a)"/>
<path class="l d" d="M1322,547 V565" marker-end="url(#a)"/>
<path class="l" d="M1393,583 V601" marker-end="url(#a)"/>
<path class="l" d="M1357,583 V637" marker-end="url(#o)"/>
<path class="l" d="M1323,583 V672" marker-end="url(#o)"/>
<path class="l" d="M1440,592 L1430,605" marker-end="url(#a)"/>
<path class="l" d="M1394,630 Q1389,633 1388,640" marker-end="url(#a)"/>
</g>

</g>
</svg>
